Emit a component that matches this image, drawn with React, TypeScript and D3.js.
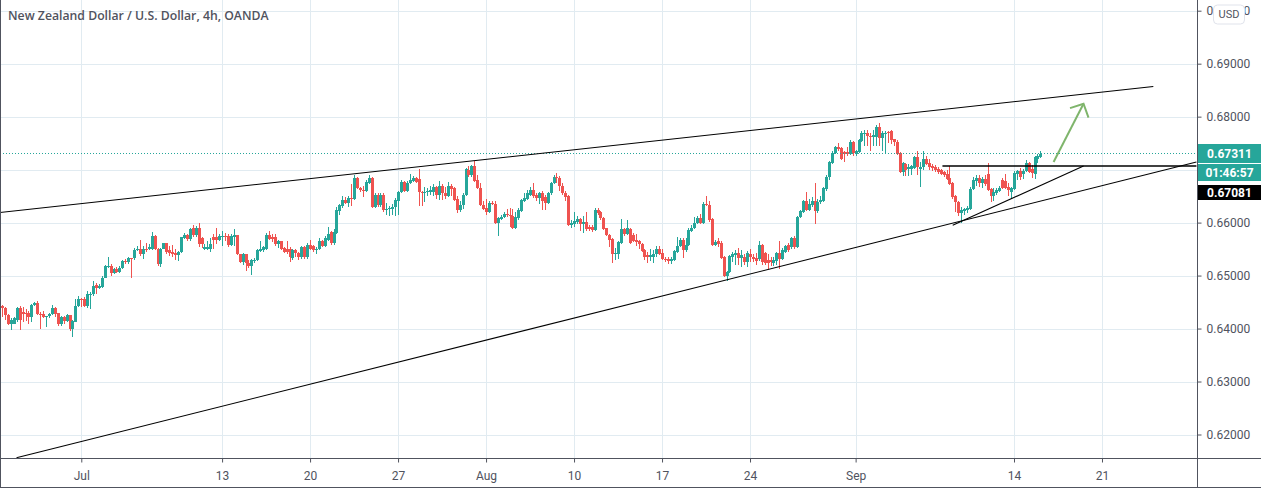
import React, { useEffect, useRef } from 'react';
import * as d3 from 'd3';

// prices in pips (0.0001), one entry per 4h bar
const opens = [
  6442,6438,6425,6408,6409,6417,6438,6431,6430,6430,
  6421,6445,6448,6427,6428,6421,6423,6427,6438,6429,
  6409,6421,6414,6425,6399,6413,6442,6455,6455,6442,
  6464,6465,6482,6476,6479,6496,6516,6518,6505,6513,
  6507,6515,6528,6526,6534,6533,6548,6551,6540,6551,
  6550,6550,6575,6551,6521,6551,6561,6548,6545,6543,
  6539,6544,6571,6576,6569,6589,6576,6589,6570,6551,
  6551,6551,6573,6572,6567,6573,6575,6574,6557,6573,
  6576,6540,6525,6540,6524,6519,6528,6529,6547,6548,
  6551,6576,6573,6572,6559,6565,6552,6551,6551,6534,
  6548,6543,6535,6553,6535,6557,6555,6548,6551,6565,
  6556,6567,6582,6561,6581,6621,6631,6642,6637,6647,
  6644,6684,6666,6662,6660,6675,6684,6630,6653,6633,
  6653,6623,6625,6625,6629,6641,6658,6676,6659,6674,
  6679,6685,6683,6658,6656,6657,6657,6658,6667,6652,
  6669,6656,6650,6669,6665,6645,6623,6633,6652,6700,
  6689,6707,6680,6666,6634,6628,6620,6637,6636,6600,
  6607,6610,6616,6615,6612,6589,6609,6622,6641,6645,
  6653,6661,6652,6647,6656,6648,6637,6655,6674,6687,
  6685,6669,6656,6650,6595,6597,6602,6606,6598,6601,
  6592,6591,6586,6623,6620,6608,6589,6577,6569,6540,
  6540,6562,6587,6578,6587,6577,6568,6565,6560,6548,
  6538,6535,6536,6540,6550,6542,6532,6531,6528,6530,
  6545,6556,6568,6548,6557,6585,6589,6599,6608,6600,
  6636,6634,6606,6558,6565,6562,6535,6500,6506,6536,
  6538,6542,6534,6535,6526,6540,6536,6533,6531,6557,
  6542,6530,6529,6524,6528,6542,6531,6545,6557,6553,
  6570,6554,6610,6620,6640,6624,6634,6641,6621,6638,
  6640,6664,6686,6713,6731,6743,6740,6733,6733,6730,
  6752,6730,6734,6754,6768,6770,6764,6762,6762,6781,
  6759,6768,6771,6772,6757,6753,6731,6696,6711,6701,
  6702,6704,6724,6702,6705,6720,6712,6707,6705,6702,
  6699,6696,6692,6685,6675,6651,6639,6618,6622,6623,
  6626,6663,6678,6685,6675,6683,6692,6664,6650,6656,
  6660,6680,6678,6668,6658,6664,6691,6698,6692,6698,
  6712,6702,6692,6720,6724,
];
const highs = [
  6444,6441,6427,6419,6421,6440,6443,6440,6437,6433,
  6447,6451,6452,6431,6433,6423,6430,6444,6440,6430,
  6423,6423,6427,6426,6416,6455,6461,6458,6460,6470,
  6469,6490,6486,6484,6500,6520,6536,6521,6514,6516,
  6518,6530,6531,6536,6534,6552,6555,6567,6555,6561,
  6560,6582,6577,6552,6552,6562,6562,6556,6558,6550,
  6546,6573,6580,6578,6590,6595,6593,6600,6572,6560,
  6565,6570,6579,6590,6578,6585,6580,6578,6578,6588,
  6577,6541,6542,6541,6530,6532,6534,6550,6565,6556,
  6580,6585,6578,6578,6567,6566,6553,6565,6553,6550,
  6550,6545,6556,6555,6562,6567,6558,6554,6570,6568,
  6575,6591,6584,6587,6630,6636,6650,6649,6650,6673,
  6689,6686,6668,6670,6680,6690,6686,6656,6655,6655,
  6655,6637,6632,6635,6646,6660,6680,6678,6679,6692,
  6688,6687,6702,6660,6668,6665,6670,6672,6670,6678,
  6673,6668,6676,6672,6668,6650,6640,6655,6703,6707,
  6709,6716,6690,6674,6640,6645,6640,6640,6640,6610,
  6615,6620,6625,6628,6625,6620,6628,6645,6655,6662,
  6667,6675,6655,6658,6660,6652,6658,6677,6690,6693,
  6688,6675,6660,6652,6605,6620,6612,6608,6612,6620,
  6595,6595,6628,6627,6622,6610,6590,6578,6570,6552,
  6565,6607,6590,6605,6590,6580,6579,6567,6562,6550,
  6545,6550,6548,6555,6555,6550,6535,6535,6535,6548,
  6573,6570,6570,6570,6590,6596,6610,6612,6617,6638,
  6651,6640,6608,6568,6570,6565,6537,6509,6539,6545,
  6548,6552,6548,6540,6546,6550,6540,6542,6565,6560,
  6545,6540,6535,6535,6545,6565,6552,6558,6562,6573,
  6575,6613,6623,6642,6657,6645,6648,6675,6645,6650,
  6668,6690,6716,6735,6745,6750,6742,6736,6742,6755,
  6754,6737,6758,6772,6775,6775,6770,6775,6785,6788,
  6773,6772,6773,6774,6758,6755,6733,6715,6713,6710,
  6708,6726,6735,6715,6735,6725,6720,6710,6708,6705,
  6702,6698,6700,6706,6677,6653,6641,6630,6628,6632,
  6668,6686,6690,6690,6686,6690,6712,6666,6665,6666,
  6670,6685,6692,6675,6668,6697,6700,6703,6702,6718,
  6715,6708,6726,6730,6735,
];
const lows = [
  6422,6416,6406,6398,6408,6412,6398,6412,6415,6409,
  6412,6442,6425,6400,6420,6403,6420,6425,6422,6405,
  6404,6409,6412,6395,6384,6413,6440,6441,6440,6438,
  6436,6462,6466,6474,6476,6495,6514,6500,6503,6504,
  6505,6513,6522,6521,6495,6530,6547,6537,6532,6545,
  6548,6549,6549,6518,6516,6550,6541,6537,6535,6530,
  6527,6543,6569,6566,6566,6573,6573,6553,6552,6549,
  6549,6545,6550,6560,6565,6555,6565,6553,6555,6555,
  6538,6523,6520,6509,6515,6501,6524,6527,6544,6545,
  6549,6567,6563,6555,6552,6549,6542,6540,6526,6530,
  6535,6530,6532,6531,6532,6549,6545,6540,6549,6554,
  6554,6565,6558,6558,6579,6614,6628,6635,6630,6631,
  6642,6664,6658,6648,6658,6673,6628,6628,6630,6630,
  6620,6615,6612,6615,6613,6614,6656,6657,6657,6672,
  6677,6675,6632,6632,6638,6650,6652,6650,6645,6642,
  6642,6645,6648,6650,6640,6618,6620,6625,6650,6687,
  6687,6677,6664,6632,6623,6614,6618,6634,6598,6574,
  6605,6608,6610,6592,6587,6587,6605,6620,6639,6643,
  6650,6647,6640,6635,6623,6623,6635,6653,6672,6675,
  6660,6653,6640,6593,6590,6592,6598,6585,6580,6585,
  6585,6582,6584,6615,6605,6586,6574,6554,6524,6530,
  6532,6560,6575,6576,6560,6563,6556,6550,6544,6530,
  6523,6528,6523,6535,6538,6529,6525,6522,6521,6528,
  6543,6553,6534,6545,6555,6583,6587,6597,6597,6598,
  6631,6602,6555,6555,6553,6531,6497,6490,6504,6525,
  6520,6520,6516,6520,6516,6525,6526,6520,6528,6520,
  6520,6512,6518,6518,6520,6513,6530,6543,6545,6550,
  6551,6552,6608,6618,6622,6622,6630,6598,6618,6635,
  6638,6660,6680,6711,6729,6735,6718,6715,6725,6727,
  6725,6725,6732,6752,6745,6744,6736,6745,6745,6745,
  6735,6731,6750,6748,6745,6728,6694,6688,6688,6688,
  6690,6702,6690,6667,6700,6708,6700,6698,6695,6692,
  6689,6686,6680,6671,6645,6620,6612,6600,6615,6618,
  6624,6661,6670,6668,6665,6670,6660,6639,6640,6652,
  6657,6663,6664,6650,6645,6662,6680,6680,6682,6696,
  6693,6685,6683,6712,6722,
];
const closes = [
  6438,6425,6408,6417,6419,6438,6417,6428,6429,6421,
  6445,6448,6427,6426,6422,6423,6427,6438,6428,6409,
  6421,6414,6425,6399,6414,6443,6455,6454,6442,6466,
  6466,6480,6477,6480,6496,6518,6519,6505,6512,6507,
  6515,6527,6526,6534,6533,6548,6551,6540,6551,6550,
  6554,6575,6551,6521,6551,6561,6544,6543,6540,6538,
  6544,6572,6576,6569,6587,6576,6589,6559,6559,6553,
  6554,6560,6567,6567,6574,6575,6573,6557,6574,6576,
  6540,6525,6540,6524,6519,6529,6530,6549,6551,6553,
  6576,6569,6569,6559,6565,6551,6545,6545,6535,6548,
  6543,6535,6553,6535,6557,6551,6548,6551,6565,6556,
  6570,6578,6562,6582,6623,6633,6642,6637,6647,6644,
  6684,6666,6661,6660,6676,6684,6630,6653,6633,6653,
  6623,6626,6627,6630,6642,6658,6676,6659,6674,6680,
  6685,6677,6658,6656,6658,6660,6661,6667,6652,6669,
  6655,6650,6669,6664,6642,6623,6634,6653,6701,6689,
  6707,6679,6666,6634,6626,6620,6637,6636,6600,6608,
  6611,6616,6615,6612,6589,6611,6624,6642,6647,6655,
  6661,6650,6647,6656,6641,6637,6656,6675,6686,6685,
  6669,6656,6648,6595,6600,6603,6606,6598,6602,6587,
  6587,6586,6624,6618,6608,6588,6576,6568,6540,6543,
  6563,6587,6578,6589,6562,6565,6564,6560,6546,6536,
  6535,6539,6541,6550,6540,6531,6529,6528,6531,6546,
  6556,6568,6549,6558,6586,6590,6600,6608,6600,6636,
  6633,6604,6557,6564,6560,6533,6500,6507,6537,6540,
  6543,6533,6538,6526,6542,6535,6532,6528,6557,6526,
  6524,6524,6525,6530,6542,6531,6548,6555,6548,6570,
  6554,6611,6621,6640,6624,6636,6641,6621,6639,6642,
  6665,6687,6714,6731,6743,6738,6721,6730,6730,6752,
  6731,6735,6755,6769,6770,6763,6762,6765,6781,6759,
  6770,6770,6770,6755,6752,6730,6696,6713,6700,6705,
  6706,6724,6705,6705,6720,6710,6705,6703,6700,6696,
  6692,6689,6683,6673,6648,6638,6618,6623,6625,6628,
  6664,6681,6685,6675,6683,6673,6662,6650,6658,6662,
  6665,6666,6666,6661,6665,6693,6698,6687,6698,6712,
  6695,6694,6724,6725,6730,
];

const priceTicks = [0.7, 0.69, 0.68, 0.67, 0.66, 0.65, 0.64, 0.63, 0.62];
const timeTickBars = [27, 75, 105, 135, 165, 195, 225, 255, 291, 345, 375];
const timeTickLabels = ['Jul', '13', '20', '27', 'Aug', '10', '17', '24', 'Sep', '14', '21'];

// user drawings as [bar, price]
const upperChannel: [number, number][] = [[-0.9, 0.6619], [392.5, 0.6857]];
const lowerChannel: [number, number][] = [[4.9, 0.6156], [407.2, 0.67143]];
const triangleRise: [number, number][] = [[324.1, 0.65951], [368.7, 0.67068]];
const triangleTop: [number, number][] = [[320.6, 0.67068], [407.2, 0.67068]];
const arrowPath: [number, number][] = [[358.5, 0.67143], [368.7, 0.68243]];
const arrowHead: [number, number][] = [[364.1, 0.6816], [368.7, 0.68243], [370.4, 0.6798]];

const lastPrice = 0.67311;
const lastPriceLabel = '0.67311';
const countdownLabel = '01:46:57';
const drawnLevelLabel = '0.67081';
const title = 'New Zealand Dollar / U.S. Dollar, 4h, OANDA';

const UP = '#26a69a';
const DOWN = '#ef5350';
const GRID = '#e1ebf1';
const AXIS = '#50535e';
const FONT = 'Roboto, sans-serif';

const WIDTH = 1263;
const HEIGHT = 488;
const PLOT_RIGHT = 1197.5;
const PLOT_BOTTOM = 458.5;

export default function App() {
  const svgRef = useRef<SVGSVGElement>(null);

  useEffect(() => {
    if (!svgRef.current) return;
    const svg = d3.select(svgRef.current);
    svg.selectAll('*').remove();

    const x = d3.scaleLinear().domain([0, 354]).range([2.1, 1040.4]);
    const y = d3.scaleLinear().domain([0.7, 0.62]).range([10.7, 434.5]);
    const py = (pips: number) => y(pips / 10000);

    svg.append('rect').attr('width', WIDTH).attr('height', HEIGHT).attr('fill', '#fff');

    svg
      .append('defs')
      .append('clipPath')
      .attr('id', 'plot')
      .append('rect')
      .attr('width', PLOT_RIGHT)
      .attr('height', PLOT_BOTTOM);

    // grid
    const grid = svg.append('g').attr('stroke', GRID).attr('shape-rendering', 'crispEdges');
    priceTicks.forEach((p) => {
      grid.append('line').attr('x1', 0).attr('x2', PLOT_RIGHT).attr('y1', Math.round(y(p)) + 0.5).attr('y2', Math.round(y(p)) + 0.5);
    });
    timeTickBars.forEach((b) => {
      grid.append('line').attr('y1', 0).attr('y2', PLOT_BOTTOM).attr('x1', Math.round(x(b)) + 0.5).attr('x2', Math.round(x(b)) + 0.5);
    });

    // candles
    const candles = svg.append('g').attr('shape-rendering', 'crispEdges');
    opens.forEach((o, i) => {
      const c = closes[i];
      const color = c >= o ? UP : DOWN;
      const cx = Math.round(x(i));
      candles
        .append('rect')
        .attr('x', cx)
        .attr('width', 1)
        .attr('y', py(highs[i]))
        .attr('height', Math.max(1, py(lows[i]) - py(highs[i])))
        .attr('fill', color);
      candles
        .append('rect')
        .attr('x', cx - 1)
        .attr('width', 3)
        .attr('y', py(Math.max(o, c)))
        .attr('height', Math.max(1, Math.abs(py(o) - py(c))))
        .attr('fill', color);
    });

    // last price line
    const lastY = Math.floor(y(lastPrice)) + 0.5;
    svg
      .append('line')
      .attr('x1', 0)
      .attr('x2', PLOT_RIGHT)
      .attr('y1', lastY)
      .attr('y2', lastY)
      .attr('stroke', UP)
      .attr('stroke-dasharray', '1 2')
      .attr('shape-rendering', 'crispEdges');

    // drawings
    const line = d3
      .line<[number, number]>()
      .x((d) => x(d[0]))
      .y((d) => y(d[1]));
    const drawings = svg.append('g').attr('clip-path', 'url(#plot)').attr('fill', 'none');
    [upperChannel, lowerChannel, triangleRise].forEach((d) => {
      drawings.append('path').attr('d', line(d)).attr('stroke', '#000').attr('stroke-width', 1.05);
    });
    drawings.append('path').attr('d', line(triangleTop)).attr('stroke', '#000').attr('stroke-width', 1.3);
    [arrowPath, arrowHead].forEach((d) => {
      drawings.append('path').attr('d', line(d)).attr('stroke', '#7fb56c').attr('stroke-width', 2);
    });

    // frame
    const frame = svg.append('g').attr('stroke', AXIS).attr('shape-rendering', 'crispEdges');
    frame.append('line').attr('x1', 0.5).attr('x2', 0.5).attr('y1', 0).attr('y2', HEIGHT);
    frame.append('line').attr('x1', 0).attr('x2', 1261).attr('y1', PLOT_BOTTOM).attr('y2', PLOT_BOTTOM);
    frame.append('line').attr('x1', 0).attr('x2', 1261).attr('y1', 487.5).attr('y2', 487.5);
    frame.append('line').attr('x1', PLOT_RIGHT).attr('x2', PLOT_RIGHT).attr('y1', 0).attr('y2', 487.5);

    // price axis, the 0.67 label sits under the last price boxes
    const yAxis = d3
      .axisRight(y)
      .tickValues(priceTicks)
      .tickSize(4)
      .tickPadding(5)
      .tickFormat((d) => (d === 0.67 ? '' : d3.format('.5f')(d as number)));
    const yg = svg.append('g').attr('transform', `translate(${PLOT_RIGHT},0)`).call(yAxis);
    yg.select('.domain').remove();
    yg.selectAll('line').attr('stroke', AXIS);
    yg.selectAll('text').attr('fill', AXIS).attr('font-family', FONT).attr('font-size', 12);

    // time axis
    const xAxis = d3
      .axisBottom(x)
      .tickValues(timeTickBars)
      .tickSize(4)
      .tickPadding(9)
      .tickFormat((d) => timeTickLabels[timeTickBars.indexOf(d as number)]);
    const xg = svg.append('g').attr('transform', `translate(0,${PLOT_BOTTOM})`).call(xAxis);
    xg.select('.domain').remove();
    xg.selectAll('line').attr('stroke', AXIS);
    xg.selectAll('text').attr('fill', AXIS).attr('font-family', FONT).attr('font-size', 12);

    // price boxes
    const boxes: [string, string, number, number][] = [
      [lastPriceLabel, UP, 144, 19],
      [countdownLabel, UP, 164, 17],
      [drawnLevelLabel, '#000', 185, 15],
    ];
    boxes.forEach(([label, fill, top, h]) => {
      svg.append('rect').attr('x', 1198).attr('y', top).attr('width', 63).attr('height', h).attr('fill', fill);
      svg
        .append('text')
        .attr('x', 1229.5)
        .attr('y', top + h / 2 + 4)
        .attr('text-anchor', 'middle')
        .attr('fill', '#fff')
        .attr('font-family', FONT)
        .attr('font-weight', 700)
        .attr('font-size', 12)
        .text(label);
    });

    // currency badge
    svg
      .append('rect')
      .attr('x', 1213.5)
      .attr('y', 5)
      .attr('width', 31)
      .attr('height', 19)
      .attr('rx', 4)
      .attr('fill', '#fff')
      .attr('stroke', '#e0e3eb');
    svg
      .append('text')
      .attr('x', 1229)
      .attr('y', 18)
      .attr('text-anchor', 'middle')
      .attr('fill', AXIS)
      .attr('font-family', FONT)
      .attr('font-size', 11)
      .text('USD');

    svg
      .append('text')
      .attr('x', 8)
      .attr('y', 20)
      .attr('fill', AXIS)
      .attr('font-family', '"Open Sans", sans-serif')
      .attr('font-weight', 600)
      .attr('font-size', 12.25)
      .text(title);
  }, []);

  return (
    <svg
      ref={svgRef}
      width={WIDTH}
      height={HEIGHT}
      style={{ position: 'absolute', left: 0, top: 0, display: 'block' }}
    />
  );
}
